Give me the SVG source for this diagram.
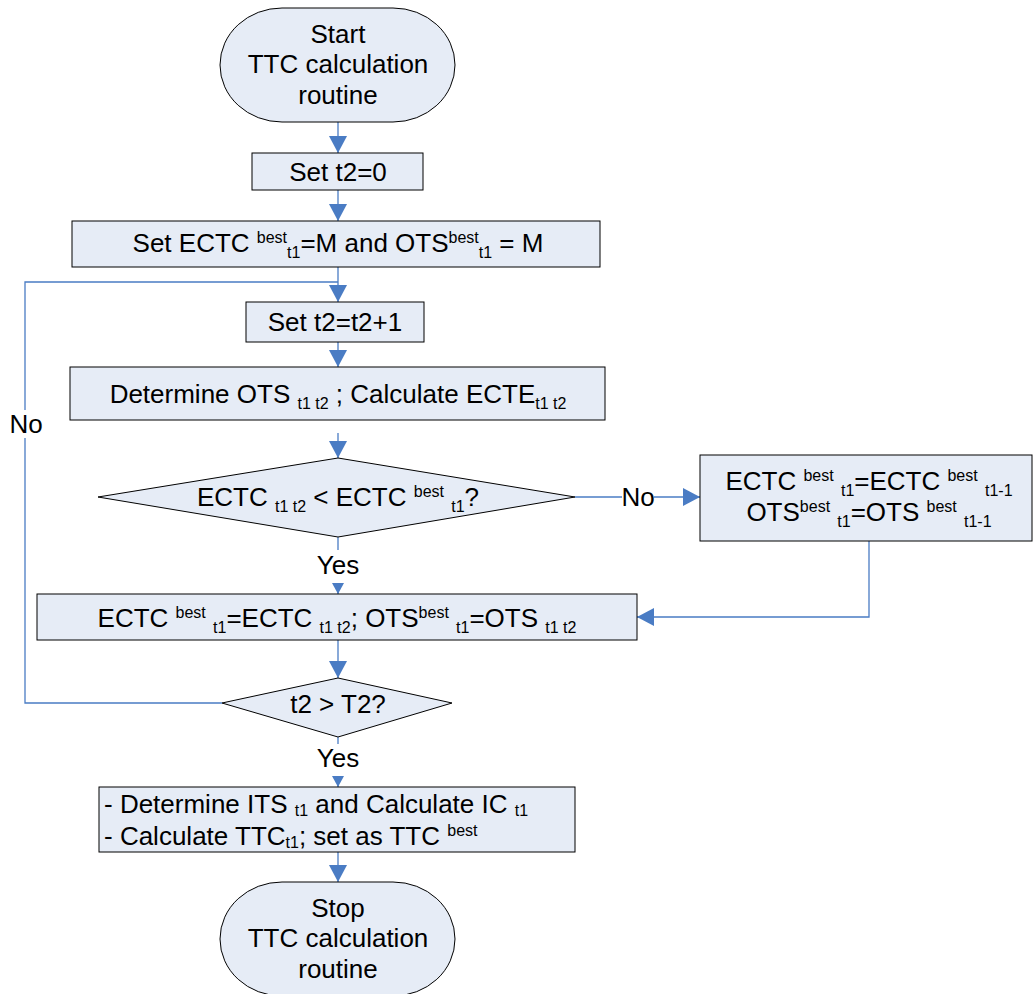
<svg xmlns="http://www.w3.org/2000/svg" width="1033" height="994" viewBox="0 0 1033 994">
<style>
.shape{fill:#e6ecf6;stroke:#000;stroke-width:1}
.t{font-family:"Liberation Sans",Arial,sans-serif;font-size:26px;fill:#000}
.c{text-anchor:middle}
.sub{font-size:16px;baseline-shift:-6px}
.sub2{font-size:16px;baseline-shift:-3px}
.sup{font-size:16px;baseline-shift:9px}
.conn{fill:none;stroke:#4a7cc4;stroke-width:1.3}
</style>
<defs>
<marker id="ah" markerUnits="userSpaceOnUse" markerWidth="18" markerHeight="18" refX="17" refY="9" orient="auto">
<path d="M0,0 L17,9 L0,18 z" fill="#4a7cc4"/>
</marker>
<marker id="ahs" markerUnits="userSpaceOnUse" markerWidth="12" markerHeight="12" refX="11" refY="6" orient="auto">
<path d="M0,0 L11,6 L0,12 z" fill="#4a7cc4"/>
</marker>
</defs>
<rect width="1033" height="994" fill="#fff"/>
<g id="connectors">
<path class="conn" d="M338,122 V153" marker-end="url(#ah)"/>
<path class="conn" d="M338,190 V221" marker-end="url(#ah)"/>
<path class="conn" d="M338,267 V302" marker-end="url(#ah)"/>
<path class="conn" d="M338,342 V367" marker-end="url(#ah)"/>
<path class="conn" d="M338,433 V458" marker-end="url(#ah)"/>
<path class="conn" d="M575,497 H622"/>
<path class="conn" d="M654,497 H700" marker-end="url(#ah)"/>
<path class="conn" d="M869,541 V617 H637" marker-end="url(#ah)"/>
<path class="conn" d="M338,537 V550"/>
<path class="conn" d="M338,583 V594" marker-end="url(#ahs)"/>
<path class="conn" d="M338,640 V678" marker-end="url(#ah)"/>
<path class="conn" d="M222,703 H25 V438"/>
<path class="conn" d="M25,410 V282 H338"/>
<path class="conn" d="M338,737 V744"/>
<path class="conn" d="M338,776 V787" marker-end="url(#ahs)"/>
<path class="conn" d="M338,852 V882" marker-end="url(#ah)"/>
<text class="t c" x="26" y="433">No</text>
<text class="t c" x="638" y="506">No</text>
<text class="t c" x="338" y="574">Yes</text>
<text class="t c" x="338" y="767">Yes</text>
</g>
<g id="start">
<rect class="shape" x="220" y="8" width="235" height="114" rx="62" ry="57"/>
<text class="t c" x="338" y="43">Start</text>
<text class="t c" x="338" y="73">TTC calculation</text>
<text class="t c" x="338" y="104">routine</text>
</g>
<g id="set-t2-0">
<rect class="shape" x="252" y="153" width="171" height="37"/>
<text class="t c" x="338" y="181">Set t2=0</text>
</g>
<g id="set-ectc-m">
<rect class="shape" x="72" y="221" width="528" height="46"/>
<text class="t c" x="338" y="252">Set ECTC <tspan class="sup">best</tspan><tspan class="sub">t1</tspan>=M and OTS<tspan class="sup">best</tspan><tspan class="sub">t1</tspan> = M</text>
</g>
<g id="set-t2-inc">
<rect class="shape" x="246" y="302" width="178" height="40"/>
<text class="t c" x="335" y="331">Set t2=t2+1</text>
</g>
<g id="determine-ots">
<rect class="shape" x="70" y="367" width="535" height="53"/>
<text class="t c" x="338" y="403">Determine OTS <tspan class="sub">t1 t2</tspan> ; Calculate ECTE<tspan class="sub">t1 t2</tspan></text>
</g>
<g id="decision-ectc">
<polygon class="shape" points="338,458 575,497 338,537 98,497"/>
<text class="t c" x="338" y="506">ECTC <tspan class="sub">t1 t2</tspan> &lt; ECTC <tspan class="sup">best</tspan> <tspan class="sub">t1</tspan>?</text>
</g>
<g id="keep-best">
<rect class="shape" x="700" y="455" width="332" height="86"/>
<text class="t c" x="869" y="490">ECTC <tspan class="sup">best</tspan> <tspan class="sub">t1</tspan>=ECTC <tspan class="sup">best</tspan> <tspan class="sub">t1-1</tspan></text>
<text class="t c" x="869" y="521">OTS<tspan class="sup">best</tspan> <tspan class="sub">t1</tspan>=OTS <tspan class="sup">best</tspan> <tspan class="sub">t1-1</tspan></text>
</g>
<g id="update-best">
<rect class="shape" x="37" y="594" width="600" height="46"/>
<text class="t c" x="337" y="627">ECTC <tspan class="sup">best</tspan> <tspan class="sub">t1</tspan>=ECTC <tspan class="sub">t1 t2</tspan>; OTS<tspan class="sup">best</tspan> <tspan class="sub">t1</tspan>=OTS <tspan class="sub">t1 t2</tspan></text>
</g>
<g id="decision-t2">
<polygon class="shape" points="338,678 452,703 338,737 222,703"/>
<text class="t c" x="338" y="713">t2 &gt; T2?</text>
</g>
<g id="determine-its">
<rect class="shape" x="99" y="787" width="476" height="65"/>
<text class="t" x="104" y="813">- Determine ITS <tspan class="sub2">t1</tspan>  and Calculate IC <tspan class="sub2">t1</tspan></text>
<text class="t" x="104" y="845">- Calculate TTC<tspan class="sub2">t1</tspan>; set as TTC <tspan class="sup">best</tspan></text>
</g>
<g id="stop">
<rect class="shape" x="220" y="882" width="235" height="114" rx="62" ry="57"/>
<text class="t c" x="338" y="917">Stop</text>
<text class="t c" x="338" y="947">TTC calculation</text>
<text class="t c" x="338" y="978">routine</text>
</g>
</svg>
